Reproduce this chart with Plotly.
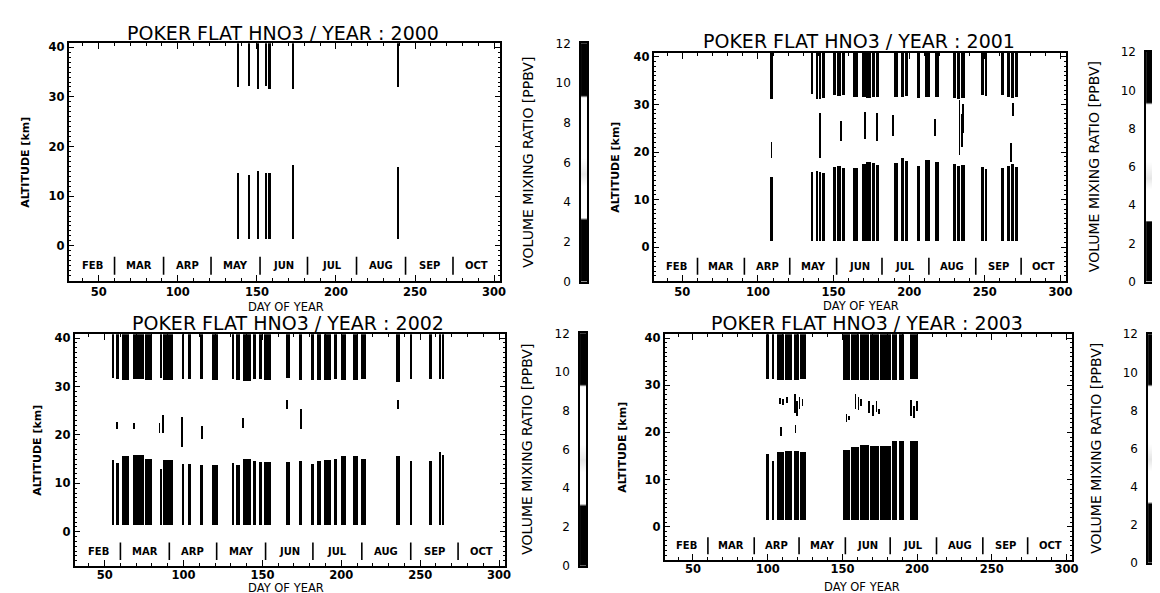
import numpy as np
import plotly.graph_objects as go

W, H = 1160, 593

YEARS = [2000, 2001, 2002, 2003]
X_TICKS = [50, 100, 150, 200, 250, 300]
Y_TICKS = [0, 10, 20, 30, 40]
CB_TICKS = [0, 2, 4, 6, 8, 10, 12]
MONTHS = ["FEB", "MAR", "ARP", "MAY", "JUN", "JUL", "AUG", "SEP", "OCT"]
MONTH_CENTER_DAY = [46, 75.5, 106, 136.5, 167, 197.5, 228.5, 259, 289]
MONTH_BOUNDARY_DAY = [60, 91, 121, 152, 182, 213, 244, 274]

LOWER_BASE_KM = 1.4
UPPER_TOP_KM = 41.0

# observation runs: start day, end day, top of lower layer (km), bottom of upper layer (km)
START_2000 = [137.6, 144.4, 150.0, 155.2, 157.3, 171.9, 238.5]
END_2000 = [138.8, 145.6, 151.2, 156.3, 158.5, 173.3, 239.8]
LOWTOP_2000 = [14.6, 14.2, 15.0, 14.6, 14.6, 16.3, 15.8]
UPBOT_2000 = [32.0, 32.1, 31.6, 32.1, 31.6, 31.6, 32.0]
MIDDAY_2000 = []
MIDBOT_2000 = []
MIDTOP_2000 = []

START_2001 = [108.0, 134.9, 138.3, 140.2, 142.2, 149.5, 152.3, 155.6, 162.9, 168.3, 171.5, 175.0, 177.8,
              189.8, 194.4, 197.0, 204.9, 210.5, 217.1, 228.8, 231.5, 234.0, 247.6, 250.0, 260.5,
              264.6, 267.0, 269.8]
END_2001 = [109.5, 136.3, 139.3, 141.6, 144.1, 151.5, 154.9, 157.3, 165.9, 171.0, 174.6, 177.2, 179.8,
            192.2, 196.2, 198.8, 206.8, 213.4, 219.5, 230.9, 233.6, 236.6, 248.9, 251.2, 262.2,
            266.4, 269.2, 272.0]
LOWTOP_2001 = [14.8, 15.7, 16.0, 15.7, 15.5, 16.8, 17.0, 16.7, 16.7, 17.5, 17.9, 17.6, 17.3,
               17.7, 18.8, 18.2, 17.0, 18.4, 18.0, 17.4, 17.1, 17.3, 16.8, 16.4, 16.7,
               17.0, 17.4, 16.9]
UPBOT_2001 = [31.2, 32.2, 31.2, 31.2, 31.3, 31.9, 31.8, 31.9, 31.6, 31.6, 31.4, 31.6, 31.6,
              31.6, 31.6, 31.7, 31.3, 31.6, 31.6, 31.3, 31.2, 31.4, 31.9, 31.8, 31.9,
              31.6, 31.4, 31.6]
MIDDAY_2001 = [108.7, 140.7, 154.9, 170.7, 178.5, 189.0, 217.0, 233.0, 234.5, 235.4, 268.3, 267.0]
MIDBOT_2001 = [18.7, 18.7, 22.4, 22.8, 22.4, 23.4, 23.4, 19.4, 21.0, 24.0, 27.5, 18.0]
MIDTOP_2001 = [22.1, 28.2, 26.5, 28.5, 28.2, 27.8, 27.0, 30.9, 28.0, 30.0, 30.2, 21.8]

START_2002 = [54.2, 57.0, 60.5, 67.5, 75.5, 84.6, 86.5, 98.6, 102.6, 110.0, 117.8, 130.6, 132.9,
              137.6, 143.5, 147.4, 151.0, 164.5, 172.7, 180.8, 184.3, 189.0, 194.9, 199.5,
              207.2, 212.4, 234.6, 243.9, 255.6, 261.9, 263.8]
END_2002 = [55.8, 58.6, 65.5, 75.0, 79.7, 86.0, 93.2, 100.2, 104.3, 112.0, 121.7, 132.0, 135.3,
            142.3, 145.8, 149.3, 155.0, 167.5, 175.0, 182.2, 186.7, 193.2, 196.9, 202.6,
            210.5, 215.2, 236.9, 244.6, 257.2, 262.9, 264.9]
LOWTOP_2002 = [14.8, 14.1, 15.5, 15.9, 15.0, 13.0, 14.8, 14.0, 13.9, 13.7, 13.7, 14.2, 13.8,
               15.0, 14.5, 14.4, 14.3, 14.4, 14.6, 14.0, 14.5, 14.8, 14.9, 15.5,
               15.6, 14.9, 15.6, 14.6, 14.6, 16.4, 15.9]
UPBOT_2002 = [31.8, 31.6, 31.4, 31.5, 31.2, 31.8, 31.2, 31.5, 31.6, 31.5, 31.3, 31.6, 31.3,
              31.0, 31.5, 31.5, 31.4, 31.8, 31.4, 31.4, 31.2, 31.3, 31.6, 31.4,
              31.2, 31.6, 30.8, 31.6, 31.6, 31.6, 31.6]
MIDDAY_2002 = [57.5, 68.2, 84.6, 86.9, 98.6, 111.4, 137.6, 165.2, 174.3, 235.7]
MIDBOT_2002 = [21.1, 21.1, 20.4, 20.4, 17.4, 19.1, 21.4, 25.4, 21.1, 25.4]
MIDTOP_2002 = [22.7, 22.4, 22.4, 24.1, 23.7, 21.7, 23.4, 27.1, 25.4, 27.1]

START_2003 = [98.3, 102.4, 106.1, 111.0, 117.1, 121.5, 150.0, 155.5, 161.7, 168.0, 175.1, 183.2, 187.3, 195.1]
END_2003 = [100.5, 104.1, 110.6, 116.3, 121.0, 125.6, 155.0, 161.0, 167.5, 174.4, 182.2, 186.6, 191.0, 200.0]
LOWTOP_2003 = [15.4, 13.8, 15.8, 16.1, 15.9, 15.7, 16.2, 16.8, 17.3, 17.1, 17.1, 18.1, 18.1, 18.2]
UPBOT_2003 = [31.3, 31.3, 31.0, 31.1, 31.1, 31.2, 31.1, 31.0, 31.0, 31.0, 31.0, 31.0, 31.1, 31.2]
MIDDAY_2003 = [108.0, 110.0, 112.5, 118.0, 119.5, 121.0, 123.0, 108.5, 118.3, 152.4, 154.4,
               158.5, 160.5, 162.2, 167.5, 170.0, 172.5, 174.4, 195.5, 197.5, 199.5]
MIDBOT_2003 = [26.0, 25.8, 26.2, 24.0, 23.5, 25.0, 25.5, 19.1, 19.8, 22.1, 22.5,
               25.0, 24.8, 25.5, 24.0, 23.5, 24.2, 23.8, 23.5, 23.1, 24.5]
MIDTOP_2003 = [27.2, 27.0, 27.5, 28.0, 26.5, 27.5, 27.0, 21.1, 21.5, 23.8, 23.5,
               28.1, 27.5, 27.0, 26.5, 25.8, 26.5, 25.0, 26.8, 25.5, 26.5]

DATA = {
    2000: (START_2000, END_2000, LOWTOP_2000, UPBOT_2000, MIDDAY_2000, MIDBOT_2000, MIDTOP_2000),
    2001: (START_2001, END_2001, LOWTOP_2001, UPBOT_2001, MIDDAY_2001, MIDBOT_2001, MIDTOP_2001),
    2002: (START_2002, END_2002, LOWTOP_2002, UPBOT_2002, MIDDAY_2002, MIDBOT_2002, MIDTOP_2002),
    2003: (START_2003, END_2003, LOWTOP_2003, UPBOT_2003, MIDDAY_2003, MIDBOT_2003, MIDTOP_2003),
}

# layout in pixels: plot frame (x0, x1, y0, y1), colorbar frame (x0, x1, y0, y1)
FRAMES = [(61, 495, 29, 272), (649, 1064, 39, 272), (67, 500, 327, 564), (660, 1070, 327, 558)]
CBARS = [(576, 582, 29, 273), (1144, 1150, 38, 273), (575, 581, 326, 564), (1146, 1152, 327, 561)]
TITLE_POS = [(276, 18), (855, 27), (281, 315), (863, 315)]
XTITLE_POS = [(279, 299), (857, 298), (279, 587), (858, 586)]
XLABEL_STANDOFF = [0, 0, -2, -2]
YTITLE_X = [18, 611, 30, 617]

FONT = "DejaVu Sans"


def px(x):
    return x / W


def py(y):
    return 1 - y / H


fig = go.Figure()
annotations = []
layout_axes = {}

for i, year in enumerate(YEARS):
    n = i + 1
    xa = "x" if n == 1 else f"x{n}"
    ya = "y" if n == 1 else f"y{n}"
    s, e, lt, ub, md, mb, mt = DATA[year]
    s = np.array(s)
    e = np.array(e)
    mids = (s + e) / 2
    widths = e - s
    lt = np.array(lt)
    ub = np.array(ub)
    fig.add_trace(go.Bar(x=mids, y=lt - LOWER_BASE_KM, base=[LOWER_BASE_KM] * len(mids), width=widths,
                         marker=dict(color="black", line=dict(width=0)), xaxis=xa, yaxis=ya,
                         showlegend=False, hoverinfo="skip"))
    fig.add_trace(go.Bar(x=mids, y=UPPER_TOP_KM - ub, base=ub, width=widths,
                         marker=dict(color="black", line=dict(width=0)), xaxis=xa, yaxis=ya,
                         showlegend=False, hoverinfo="skip"))
    if md:
        mb = np.array(mb)
        mt = np.array(mt)
        fig.add_trace(go.Bar(x=md, y=mt - mb, base=mb, width=[0.5] * len(md),
                             marker=dict(color="black", line=dict(width=0)), xaxis=xa, yaxis=ya,
                             showlegend=False, hoverinfo="skip"))
    # month separators
    sx, sy = [], []
    for d in MONTH_BOUNDARY_DAY:
        sx += [d, d, None]
        sy += [-5.8, -2.2, None]
    fig.add_trace(go.Scatter(x=sx, y=sy, mode="lines", line=dict(color="black", width=1.6),
                             xaxis=xa, yaxis=ya, showlegend=False, hoverinfo="skip"))
    for m, d in zip(MONTHS, MONTH_CENTER_DAY):
        annotations.append(dict(x=d, y=-4, xref=xa, yref=ya, text=m, showarrow=False,
                                font=dict(family=FONT, size=10, color="black", weight="bold"),
                                xanchor="center", yanchor="middle"))

    x0, x1, y0, y1 = FRAMES[i]
    axis_common = dict(showline=True, linecolor="black", linewidth=1.6, mirror="allticks",
                       ticks="inside", tickcolor="black", tickwidth=1.3, showgrid=False,
                       zeroline=False, tickfont=dict(family=FONT, size=11.5, color="black", weight="bold"))
    layout_axes["xaxis" if n == 1 else f"xaxis{n}"] = dict(
        domain=[px(x0), px(x1)], anchor=ya, range=[31, 304], tickvals=X_TICKS, ticklen=6,
        ticklabelstandoff=XLABEL_STANDOFF[i],
        minor=dict(ticks="inside", dtick=10, tick0=0, ticklen=3, tickcolor="black", tickwidth=1.2),
        **axis_common)
    layout_axes["yaxis" if n == 1 else f"yaxis{n}"] = dict(
        domain=[py(y1), py(y0)], anchor=xa, range=[-7, 40.8], tickvals=Y_TICKS, ticklen=6,
        minor=dict(ticks="inside", dtick=1, tick0=0, ticklen=3, tickcolor="black", tickwidth=1.0),
        **axis_common)

    # colorbar as its own narrow axes
    cn = n + 4
    cxa, cya = f"x{cn}", f"y{cn}"
    levels = np.linspace(0, 12, 241)
    fig.add_trace(go.Heatmap(z=[[v] for v in levels], y=levels, x=[0], xaxis=cxa, yaxis=cya,
                             zmin=0, zmax=12, showscale=False, hoverinfo="skip",
                             colorscale=[[0, "black"], [0.255, "black"], [0.265, "white"],
                                         [0.40, "white"], [0.45, "#e6e6e6"], [0.52, "white"],
                                         [0.77, "white"], [0.78, "black"], [1, "black"]]))
    cx0, cx1, cy0, cy1 = CBARS[i]
    layout_axes[f"xaxis{cn}"] = dict(domain=[px(cx0), px(cx1)], anchor=cya, range=[-0.5, 0.5],
                                     showticklabels=False, ticks="", showgrid=False, zeroline=False,
                                     showline=True, linecolor="black", linewidth=1.5, mirror=True)
    layout_axes[f"yaxis{cn}"] = dict(domain=[py(cy1), py(cy0)], anchor=cxa, range=[0, 12],
                                     tickvals=CB_TICKS, ticks="", side="left", showgrid=False,
                                     zeroline=False, showline=True, linecolor="black", linewidth=1.5,
                                     mirror=True, ticklabelstandoff=6,
                                     tickfont=dict(family=FONT, size=12, color="black"))
    annotations.append(dict(x=px(cx0 - 53), y=py((cy0 + cy1) / 2), xref="paper", yref="paper",
                            text="VOLUME MIXING RATIO [PPBV]", textangle=-90, showarrow=False,
                            font=dict(family=FONT, size=14, color="black"),
                            xanchor="center", yanchor="middle"))

    tx, ty = TITLE_POS[i]
    annotations.append(dict(x=px(tx), y=py(ty), xref="paper", yref="paper",
                            text=f"POKER FLAT HNO3 / YEAR : {year}", showarrow=False,
                            font=dict(family=FONT, size=19, color="black"),
                            xanchor="center", yanchor="middle"))
    dx, dy = XTITLE_POS[i]
    annotations.append(dict(x=px(dx), y=py(dy), xref="paper", yref="paper",
                            text="DAY OF YEAR", showarrow=False,
                            font=dict(family=FONT, size=11.5, color="black"),
                            xanchor="center", yanchor="middle"))
    annotations.append(dict(x=px(YTITLE_X[i]), y=py((y0 + y1) / 2), xref="paper", yref="paper",
                            text="ALTITUDE [km]", textangle=-90, showarrow=False,
                            font=dict(family=FONT, size=11, color="black", weight="bold"),
                            xanchor="center", yanchor="middle"))

fig.update_layout(width=W, height=H, autosize=False, margin=dict(l=0, r=0, t=0, b=0),
                  paper_bgcolor="white", plot_bgcolor="white", barmode="overlay", bargap=0,
                  showlegend=False, annotations=annotations, **layout_axes)

fig.write_html("out.html")
